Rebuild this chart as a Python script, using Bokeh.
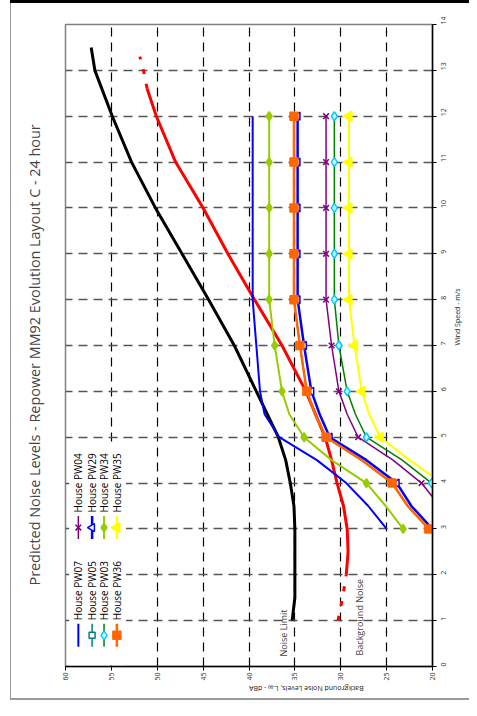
import math
from bokeh.plotting import figure
from bokeh.models import Range1d, FixedTicker, Label
from bokeh.core.properties import value
from bokeh.embed import file_html
from bokeh.resources import INLINE

# ---------------- data ----------------
TITLE = "Predicted Noise Levels - Repower MM92 Evolution Layout C - 24 hour"
WIND_LABEL = "Wind Speed - m/s"
NOISE_LABEL = "Background Noise Levels, L\u2090\u2089\u2080 - dBA"
wind_ticks = list(range(0, 15))
noise_ticks = [20, 25, 30, 35, 40, 45, 50, 55, 60]

# Noise limit (black)
limit_wind = [1, 1.5, 2, 2.5, 3, 3.5, 4, 4.5, 5, 6, 7, 8, 9, 10, 11, 12, 13, 13.5]
limit_db = [35.3, 35.0, 35.0, 35.0, 35.0, 35.1, 35.5, 36.0, 36.8, 39.2, 41.6, 44.4, 47.3, 50.2, 52.8, 54.9, 56.8, 57.2]

# Background noise (red): dashed extrapolated ends, solid measured part
bg_low_wind = [1, 1.5, 2]
bg_low_db = [30.3, 29.8, 29.4]
bg_wind = [2, 2.5, 3, 3.5, 4, 4.5, 5, 6, 7, 8, 9, 10, 11, 12, 12.6]
bg_db = [29.4, 29.2, 29.3, 29.7, 30.4, 31.0, 31.7, 33.8, 36.4, 39.4, 42.3, 45.0, 48.0, 50.1, 51.1]
bg_high_wind = [12.6, 13.0, 13.3]
bg_high_db = [51.1, 51.5, 51.9]

# Houses
wind_a = [3, 3.5, 4, 4.5, 5, 5.5, 6, 7, 8, 9, 10, 11, 12]
wind_b = [3, 4, 4.5, 5, 5.5, 6, 7, 8, 9, 10, 11, 12]
pw07_db = [25.0, 27.0, 29.4, 32.6, 36.7, 38.3, 38.8, 39.2, 39.6, 39.6, 39.6, 39.6, 39.6]
pw36_db = [20.4, 22.7, 24.4, 27.7, 31.6, 32.8, 33.7, 34.45, 35.1, 35.1, 35.1, 35.1, 35.1]
pw05_db = [20.4, 22.7, 24.4, 27.7, 31.6, 32.8, 33.7, 34.45, 35.1, 35.1, 35.1, 35.1, 35.1]
pw29_db = [20.0, 22.3, 23.9, 27.2, 31.2, 32.3, 33.2, 34.0, 34.7, 34.7, 34.7, 34.7, 34.7]
pw34_db = [23.2, 25.1, 27.2, 31.0, 34.0, 35.6, 36.4, 37.2, 37.8, 37.8, 37.8, 37.8, 37.8]
pw04_db = [17.2, 21.2, 24.3, 28.1, 29.3, 30.2, 31.0, 31.6, 31.6, 31.6, 31.6, 31.6]
pw03_db = [15.0, 20.1, 23.3, 27.2, 28.4, 29.3, 30.2, 30.7, 30.7, 30.7, 30.7, 30.7]
pw35_db = [14.0, 18.9, 22.5, 25.7, 26.9, 27.7, 28.5, 29.1, 29.1, 29.1, 29.1, 29.1]

legend_col1 = ["House PW07", "House PW05", "House PW03", "House PW36"]
legend_col2 = ["House PW04", "House PW29", "House PW34", "House PW35"]

FONT = "Open Sans"

# ---------------- figure ----------------
p = figure(width=469, height=700, x_range=Range1d(60, 20), y_range=Range1d(0, 14),
           output_backend="svg", toolbar_location=None, y_axis_location="right",
           title_location="left", title=TITLE,
           min_border_left=63, min_border_right=36, min_border_top=24, min_border_bottom=34)
p.title.text_font = FONT
p.title.text_font_size = "14.4px"
p.title.text_font_style = "normal"
p.title.align = "left"
p.title.offset = 81
p.title.standoff = 44
p.outline_line_color = "#808080"
p.outline_line_width = 1.5
p.background_fill_color = "white"
p.border_fill_color = None
# page frame around the chart (black top rule, grey left and bottom rules)
p.styles = {
    "background-image": "linear-gradient(#000000, #000000), linear-gradient(#9a9a9a, #9a9a9a), "
                        "linear-gradient(#9a9a9a, #9a9a9a)",
    "background-size": "459px 3px, 1px 700px, 459px 2px",
    "background-position": "10px 0px, 10px 0px, 10px 698px",
    "background-repeat": "no-repeat",
}

xa = p.xaxis[0]
xa.ticker = FixedTicker(ticks=noise_ticks)
ya = p.yaxis[0]
ya.ticker = FixedTicker(ticks=wind_ticks)
for ax in (xa, ya):
    ax.major_label_orientation = math.pi / 2
    ax.major_label_text_font = FONT
    ax.major_label_text_font_size = "7px"
    ax.major_label_text_color = "#333333"
    ax.major_tick_in = 0
    ax.major_tick_out = 4
    ax.minor_tick_in = 0
    ax.minor_tick_out = 0
    ax.axis_line_color = "black"
    ax.axis_line_width = 1.5
    ax.major_tick_line_color = "black"
    ax.axis_label_text_font = FONT
    ax.axis_label_text_font_size = "7px"
    ax.axis_label_text_font_style = "normal"
    ax.axis_label_text_color = "#222222"
xa.major_label_standoff = 2
ya.major_label_standoff = 7
xa.axis_label = NOISE_LABEL
ya.axis_label = WIND_LABEL
xa.axis_label_standoff = 5
ya.axis_label_standoff = 6
try:
    xa.axis_label_orientation = math.pi
    ya.axis_label_orientation = math.pi / 2
except Exception:
    pass

p.xgrid.ticker = FixedTicker(ticks=noise_ticks)
p.ygrid.ticker = FixedTicker(ticks=wind_ticks)
p.xgrid.grid_line_color = "black"
p.xgrid.grid_line_width = 1.2
p.xgrid.grid_line_dash = "9 6"
p.ygrid.grid_line_color = "#555555"
p.ygrid.grid_line_width = 1.5
p.ygrid.grid_line_dash = "9 6"

# legend background box (covers grid)
p.quad(left=[59.6], right=[53.4], bottom=[0.02], top=[4.86], fill_color="white", line_color=None)

# Noise limit and background
p.line(limit_db, limit_wind, line_color="black", line_width=3)
p.line(bg_low_db, bg_low_wind, line_color="red", line_width=3, line_dash="5 10")
p.line(bg_db, bg_wind, line_color="red", line_width=3)
p.line(bg_high_db, bg_high_wind, line_color="red", line_width=3, line_dash="5 10")


def markers(wind, db):
    pts = [(w, d) for w, d in zip(wind, db) if float(w).is_integer()]
    return [d for w, d in pts], [w for w, d in pts]


TRI = math.pi / 2
series = [
    # name, wind, db, line colour, width, marker, size, fill, mline, angle
    ("PW07", wind_a, pw07_db, "#0000FF", 2.0, None, 0, None, None, 0),
    ("PW04", wind_b, pw04_db, "#800080", 1.5, "x", 8, None, "#800080", 0),
    ("PW05", wind_a, pw05_db, "#008080", 1.5, "square", 6, "white", "#008080", 0),
    ("PW29", wind_a, pw29_db, "#0000FF", 2.5, "triangle", 8, "white", "#0000FF", TRI),
    ("PW03", wind_b, pw03_db, "#008000", 1.5, "diamond", 9, "#CCFFFF", "#00CCFF", 0),
    ("PW34", wind_a, pw34_db, "#99CC00", 2.0, "diamond", 9, "#99CC00", "#99CC00", 0),
    ("PW36", wind_a, pw36_db, "#FF6600", 2.5, "square", 8, "#FF6600", "#FF6600", 0),
    ("PW35", wind_b, pw35_db, "#FFFF00", 2.0, "triangle", 10, "#FFFF00", "#FFFF00", TRI),
]
style = {}
for name, w, d, col, lw, mk, sz, fill, mcol, ang in series:
    style[name] = (col, lw, mk, sz, fill, mcol, ang)
    p.line(d, w, line_color=col, line_width=lw)
    if mk:
        mx, my = markers(w, d)
        p.scatter(mx, my, marker=mk, size=sz, fill_color=fill, line_color=mcol,
                  line_width=1.5, angle=ang)

# ---------------- legend (rotated, drawn in data space) ----------------
leg_x = [58.6, 57.1, 55.8, 54.4]
leg_rows = [(0.68, legend_col1), (3.03, legend_col2)]
for yc, names in leg_rows:
    for xc, nm in zip(leg_x, names):
        col, lw, mk, sz, fill, mcol, ang = style[nm.split()[-1]]
        p.line([xc, xc], [yc - 0.25, yc + 0.25], line_color=col, line_width=lw)
        if mk:
            p.scatter([xc], [yc], marker=mk, size=sz, fill_color=fill, line_color=mcol,
                      line_width=1.5, angle=ang)
        p.text([xc], [yc + 0.33], text=[nm], angle=math.pi / 2, text_align="left",
               text_baseline="middle", text_font=value(FONT), text_font_size="10px",
               text_color="black")

# curve labels
p.add_layout(Label(x=36.2, y=0.22, text="Noise Limit", angle=math.pi / 2, text_align="left",
                   text_baseline="middle", text_font=FONT, text_font_size="9px"))
p.add_layout(Label(x=28.0, y=0.24, text="Background Noise", angle=math.pi / 2, text_align="left",
                   text_baseline="middle", text_font=FONT, text_font_size="9px"))

open("out.html", "w").write(file_html(p, INLINE))
